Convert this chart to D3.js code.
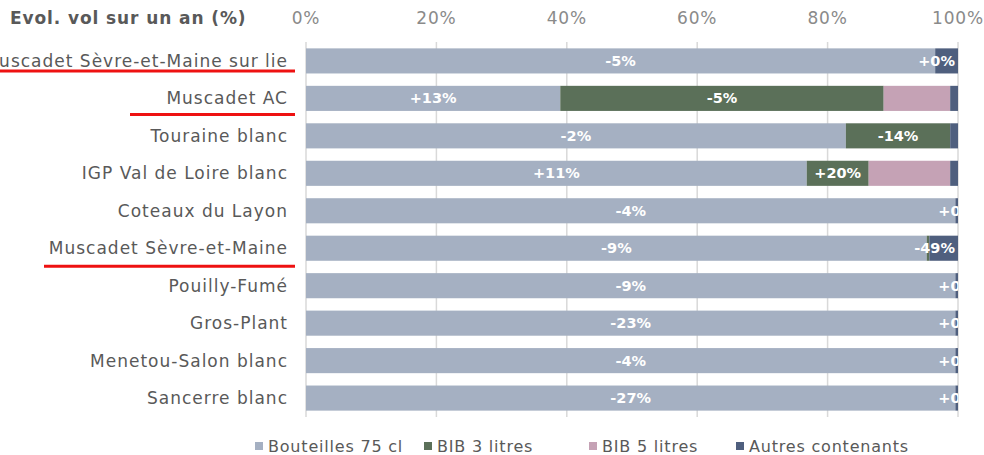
<!DOCTYPE html>
<html>
<head>
<meta charset="utf-8">
<script src="https://cdn.jsdelivr.net/npm/d3@7"></script>
<style>
  body { margin: 0; background: #fff; }
  svg { display: block; }
</style>
</head>
<body>
<div id="chart"></div>
<script>
// appellations, de haut en bas
const categories = [
  "Muscadet Sèvre-et-Maine sur lie", "Muscadet AC", "Touraine blanc",
  "IGP Val de Loire blanc", "Coteaux du Layon", "Muscadet Sèvre-et-Maine",
  "Pouilly-Fumé", "Gros-Plant", "Menetou-Salon blanc", "Sancerre blanc"
];
const seriesNames = ["Bouteilles 75 cl", "BIB 3 litres", "BIB 5 litres", "Autres contenants"];
// parts de volume (%)
const bouteilles = [96.5, 39.0, 82.8, 76.8, 99.6, 95.2, 99.6, 99.6, 99.6, 99.6];
const bib3       = [0,    49.6, 16.0, 9.5,  0,    0.4,  0,    0,    0,    0];
const bib5       = [0,    10.2, 0,    12.5, 0,    0,    0,    0,    0,    0];
const autres     = [3.5,  1.2,  1.2,  1.2,  0.4,  4.4,  0.4,  0.4,  0.4,  0.4];
// evolution du volume sur un an, affichee dans les segments
const lblBouteilles = ["-5%", "+13%", "-2%", "+11%", "-4%", "-9%", "-9%", "-23%", "-4%", "-27%"];
const lblBib3       = ["", "-5%", "-14%", "+20%", "", "", "", "", "", ""];
const lblBib5       = ["", "", "", "", "", "", "", "", "", ""];
const lblAutres     = ["+0%", "", "", "", "+0%", "-49%", "+0%", "+0%", "+0%", "+0%"];
const xTicks = [0, 20, 40, 60, 80, 100];
// lignes rouges sous certains libelles
const underlined = ["Muscadet Sèvre-et-Maine sur lie", "Muscadet AC", "Muscadet Sèvre-et-Maine"];

const colors = ["#a5b0c2", "#5b7059", "#c5a2b5", "#4f5f7e"];
const values = [bouteilles, bib3, bib5, autres];
const labels = [lblBouteilles, lblBib3, lblBib5, lblAutres];
const font = "'DejaVu Sans', sans-serif";

const width = 984, height = 455;
const svg = d3.select("#chart").append("svg")
  .attr("width", width).attr("height", height);

const x = d3.scaleLinear().domain([0, 100]).range([306, 958]);
const y = d3.scaleBand().domain(categories).range([42, 417]).paddingInner(0.33).paddingOuter(0.17);

// table pour d3.stack
const rows = categories.map((c, i) => {
  const r = { cat: c };
  seriesNames.forEach((s, j) => r[s] = values[j][i]);
  return r;
});
const stacked = d3.stack().keys(seriesNames)(rows);

// titre
svg.append("text")
  .attr("x", 10).attr("y", 24)
  .attr("font-family", font).attr("font-size", 17).attr("font-weight", "bold")
  .attr("letter-spacing", 0.9)
  .attr("fill", "#595959")
  .text("Evol. vol sur un an (%)");

// grille
svg.append("g").selectAll("line").data(xTicks).join("line")
  .attr("x1", d => x(d)).attr("x2", d => x(d))
  .attr("y1", 42).attr("y2", 417)
  .attr("stroke", "#d9d9d9").attr("stroke-width", 1.5);

// axe du haut
svg.append("g").selectAll("text").data(xTicks).join("text")
  .attr("x", d => x(d)).attr("y", 24)
  .attr("text-anchor", "middle")
  .attr("font-family", font).attr("font-size", 17)
  .attr("letter-spacing", 0.8)
  .attr("fill", "#8a8a8a")
  .text(d => d + "%");

// libelles des categories
svg.append("g").selectAll("text").data(categories).join("text")
  .attr("x", 288).attr("y", d => y(d) + y.bandwidth() / 2)
  .attr("dy", "0.35em").attr("text-anchor", "end")
  .attr("font-family", font).attr("font-size", 17)
  .attr("letter-spacing", 1.0)
  .attr("fill", "#595959")
  .text(d => d);

// soulignement rouge
const ulStart = [0, 130, 44];
const ulOffset = [10, 16, 18];
svg.append("g").selectAll("line").data(underlined).join("line")
  .attr("x1", (d, i) => ulStart[i])
  .attr("x2", 295)
  .attr("y1", (d, i) => y(d) + y.bandwidth() / 2 + ulOffset[i])
  .attr("y2", (d, i) => y(d) + y.bandwidth() / 2 + ulOffset[i])
  .attr("stroke", "#ee1111").attr("stroke-width", 3);

svg.append("clipPath").attr("id", "plot")
  .append("rect").attr("x", x(0)).attr("y", 0).attr("width", x(100) - x(0)).attr("height", height);

// barres empilees
const layers = svg.append("g").selectAll("g").data(stacked).join("g")
  .attr("fill", (d, i) => colors[i]);
layers.selectAll("rect").data(d => d).join("rect")
  .attr("x", d => x(d[0]))
  .attr("width", d => x(d[1]) - x(d[0]))
  .attr("y", d => y(d.data.cat))
  .attr("height", y.bandwidth());

// etiquettes des segments
const gLbl = svg.append("g").attr("clip-path", "url(#plot)");
stacked.forEach((layer, j) => {
  layer.forEach((d, i) => {
    const t = labels[j][i];
    if (!t) return;
    const segW = x(d[1]) - x(d[0]);
    const txt = gLbl.append("text")
      .attr("y", y(d.data.cat) + y.bandwidth() / 2)
      .attr("dy", "0.35em").attr("text-anchor", "middle")
      .attr("font-family", font).attr("font-size", 14.5).attr("font-weight", 600)
      .attr("fill", "#ffffff")
      .text(t);
    let cx = (x(d[0]) + x(d[1])) / 2;
    const w = txt.node().getComputedTextLength();
    if (segW > 12) cx = Math.min(cx, x(100) - 3 - w / 2);
    txt.attr("x", cx);
  });
});

// legende
const legendX = [255, 424, 589, 736];
const gLeg = svg.append("g");
seriesNames.forEach((s, i) => {
  gLeg.append("rect")
    .attr("x", legendX[i]).attr("y", 442).attr("width", 8).attr("height", 8)
    .attr("fill", colors[i]);
  gLeg.append("text")
    .attr("x", legendX[i] + 13).attr("y", 446).attr("dy", "0.35em")
    .attr("font-family", font).attr("font-size", 16)
    .attr("letter-spacing", 0.8)
    .attr("fill", "#595959")
    .text(s);
});
</script>
</body>
</html>
